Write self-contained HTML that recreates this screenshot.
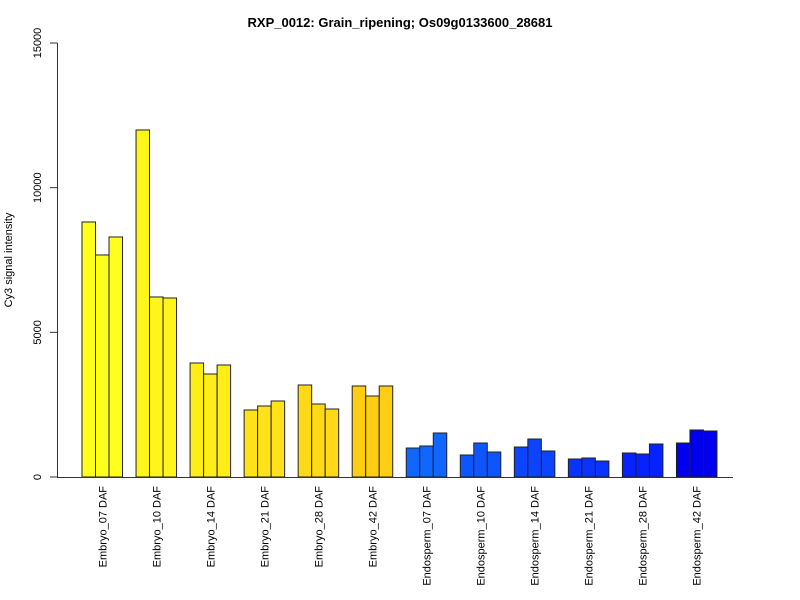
<!DOCTYPE html>
<html><head><meta charset="utf-8"><style>
html,body{margin:0;padding:0;background:#fff}
svg{display:block;font-family:"Liberation Sans",Arial,sans-serif}
</style></head><body>
<svg id="chart" width="800" height="600">
<text x="400" y="27" text-anchor="middle" font-weight="bold" font-size="13">RXP_0012: Grain_ripening; Os09g0133600_28681</text>
<text transform="translate(12,260) rotate(-90)" text-anchor="middle" font-size="11">Cy3 signal intensity</text>
<g id="yaxis"></g>
<g id="bars"></g>
<g id="xlabels"></g>
<line x1="57" y1="477.5" x2="733" y2="477.5" stroke="#333"/>
</svg>
<script>
const categories = ["Embryo_07 DAF","Embryo_10 DAF","Embryo_14 DAF","Embryo_21 DAF","Embryo_28 DAF","Embryo_42 DAF","Endosperm_07 DAF","Endosperm_10 DAF","Endosperm_14 DAF","Endosperm_21 DAF","Endosperm_28 DAF","Endosperm_42 DAF"];
const rep1 = [8814,11994,3940,2316,3180,3145,1002,760,1037,622,830,1175];
const rep2 = [7674,6222,3560,2454,2523,2800,1072,1175,1313,657,795,1625];
const rep3 = [8296,6187,3871,2627,2350,3145,1521,864,899,553,1141,1590];
const groupColors = ["#FFFF1E","#FFF51A","#FFED18","#FFE21A","#FFD816","#FFCE14","#1166FF","#0F55FF","#0C44FF","#0A33FF","#0622FF","#0000EE"];
const yTicks = [0,5000,10000,15000];

const NS="http://www.w3.org/2000/svg";
const y0=477, yMax=15000, yTop=43;
function yS(v){return y0-(v/yMax)*(y0-yTop);}
const unit=13.51, xStart=82-unit;
function xS(u){return xStart+u*unit;}

const ya=document.getElementById('yaxis');
function mk(tag,attrs,parent){const e=document.createElementNS(NS,tag);for(const k in attrs)e.setAttribute(k,attrs[k]);parent.appendChild(e);return e;}
mk('line',{x1:57.5,y1:yS(0),x2:57.5,y2:yS(yMax),stroke:'#333'},ya);
yTicks.forEach(t=>{
  const l=mk('line',{x1:50,y1:yS(t),x2:57.5,y2:yS(t),stroke:'#333'},ya);
  
  
  const tx=mk('text',{transform:`translate(41,${yS(t)}) rotate(-90)`,'text-anchor':'middle','font-size':'11'},ya);
  tx.textContent=t;
  
  
});
const bg=document.getElementById('bars'), xl=document.getElementById('xlabels');
const reps=[rep1,rep2,rep3];
categories.forEach((c,i)=>{
  reps.forEach((r,j)=>{
    const u=1+i*4+j;
    const b=mk('rect',{x:xS(u),y:yS(r[i]),width:unit,height:yS(0)-yS(r[i]),fill:groupColors[i],stroke:'#222','stroke-width':1},bg);
    
    
  });
  const cx=xS(1+i*4+1.5);
  const t=mk('text',{transform:`translate(${cx+4},486) rotate(-90)`,'text-anchor':'end','font-size':'11'},xl);
  t.textContent=c;
  
  
});
</script>
</body></html>
